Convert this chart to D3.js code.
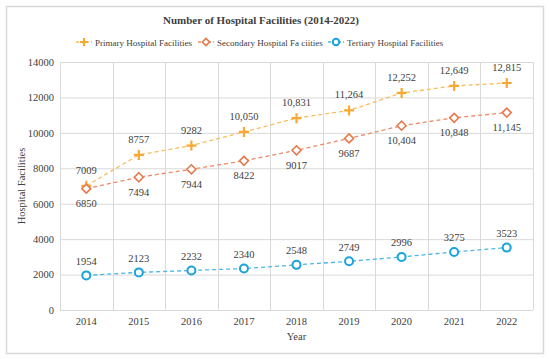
<!DOCTYPE html>
<html>
<head>
<meta charset="utf-8">
<script src="https://cdn.jsdelivr.net/npm/d3@7"></script>
<style>
  body { margin: 0; background: #fff; }
  text { font-family: "Liberation Serif", "DejaVu Serif", serif; fill: #404040; }
</style>
</head>
<body>
<svg id="chart" width="550" height="359"></svg>
<script>
const years = ["2014","2015","2016","2017","2018","2019","2020","2021","2022"];
const primary = [7009, 8757, 9282, 10050, 10831, 11264, 12252, 12649, 12815];
const secondary = [6850, 7494, 7944, 8422, 9017, 9687, 10404, 10848, 11145];
const tertiary = [1954, 2123, 2232, 2340, 2548, 2749, 2996, 3275, 3523];
const yTicks = [0, 2000, 4000, 6000, 8000, 10000, 12000, 14000];
const seriesNames = ["Primary Hospital Facilities", "Secondary Hospital Fa ciities", "Tertiary Hospital Facilities"];

let svg = d3.select("#chart");

// outer frame
svg.append("rect")
    .attr("x", 6.5).attr("y", 6.5)
    .attr("width", 537).attr("height", 347)
    .attr("fill", "#fff")
    .attr("stroke", "#d9d9d9")
    .attr("stroke-width", 1.5);

const plotL = 60, plotR = 533, plotT = 62, plotB = 310;

let x = d3.scaleBand().domain(years).range([plotL, plotR]).padding(0);
let y = d3.scaleLinear().domain([0, 14000]).range([plotB, plotT]);

// grid
let grid = svg.append("g");
grid.selectAll(".hg").data(yTicks).enter().append("line")
    .attr("x1", plotL).attr("x2", plotR)
    .attr("y1", d => y(d) + 0.5).attr("y2", d => y(d) + 0.5)
    .attr("stroke", "#d9d9d9");
let bounds = years.map(d => x(d)).concat([plotR]);
grid.selectAll(".vg").data(bounds).enter().append("line")
    .attr("x1", d => Math.round(d) + 0.5).attr("x2", d => Math.round(d) + 0.5)
    .attr("y1", plotT).attr("y2", plotB)
    .attr("stroke", "#d9d9d9");

// axes (labels only)
let yAxis = svg.append("g")
    .attr("transform", "translate(" + (plotL - 6) + ",0)")
    .call(d3.axisLeft(y).tickValues(yTicks).tickFormat(d3.format("d")).tickSize(0).tickPadding(0));
yAxis.attr("font-family", null);
yAxis.select(".domain").remove();
yAxis.selectAll("text").style("font-size", "10.5px").attr("fill", "#404040");

let xAxis = svg.append("g")
    .attr("transform", "translate(0," + plotB + ")")
    .call(d3.axisBottom(x).tickSize(0).tickPadding(8));
xAxis.attr("font-family", null);
xAxis.select(".domain").remove();
xAxis.selectAll("text").style("font-size", "10.5px").attr("fill", "#404040");

svg.append("text")
    .attr("x", (plotL + plotR) / 2).attr("y", 340)
    .attr("text-anchor", "middle")
    .style("font-size", "10.5px")
    .text("Year");

svg.append("text")
    .attr("transform", "translate(25," + ((plotT + plotB) / 2) + ") rotate(-90)")
    .attr("text-anchor", "middle")
    .style("font-size", "10.5px")
    .text("Hospital Facilities");

// title
svg.append("text")
    .attr("x", 261).attr("y", 24)
    .attr("text-anchor", "middle")
    .style("font-size", "11px")
    .style("font-weight", "bold")
    .text("Number of Hospital Facilities (2014-2022)");

const colors = ["#F7A934", "#E8784D", "#1AA3DD"];
const lineColors = ["#F9BC5E", "#EC8A66", "#4DB6E6"];
const fmt = v => v >= 10000 ? d3.format(",")(v) : String(v);

function marker(g, kind, color, s) {
    if (kind == 0) {
        g.append("path").attr("d", `M${-5*s},0H${5*s}M0,${-5*s}V${5*s}`)
            .attr("stroke", color).attr("stroke-width", 2.2).attr("fill", "none");
    } else if (kind == 1) {
        g.append("path").attr("d", `M0,${-4.5*s}L${4.5*s},0L0,${4.5*s}L${-4.5*s},0Z`)
            .attr("stroke", color).attr("stroke-width", 1.6).attr("fill", "#fff");
    } else {
        g.append("circle").attr("r", 4 * s)
            .attr("stroke", color).attr("stroke-width", 2).attr("fill", "#fff");
    }
}

const allSeries = [primary, secondary, tertiary];
const labelOffset = [-12, 18.5, -10.5];

let line = d3.line().x((d, i) => x(years[i]) + x.bandwidth() / 2).y(d => y(d));

allSeries.forEach((vals, k) => {
    svg.append("path")
        .datum(vals)
        .attr("d", line)
        .attr("fill", "none")
        .attr("stroke", lineColors[k])
        .attr("stroke-width", 1.3)
        .attr("stroke-dasharray", "4,3");
});

allSeries.forEach((vals, k) => {
    vals.forEach((v, i) => {
        let cx = x(years[i]) + x.bandwidth() / 2;
        let cy = y(v);
        let g = svg.append("g").attr("transform", "translate(" + cx + "," + cy + ")");
        marker(g, k, colors[k], 1);
        svg.append("text")
            .attr("x", cx).attr("y", cy + labelOffset[k])
            .attr("text-anchor", "middle")
            .style("font-size", "10.5px")
            .text(fmt(v));
    });
});

// legend
const legendX = [76, 198, 328];
seriesNames.forEach((name, k) => {
    let lx = legendX[k], ly = 42;
    svg.append("line")
        .attr("x1", lx).attr("x2", lx + 16)
        .attr("y1", ly).attr("y2", ly)
        .attr("stroke", lineColors[k]).attr("stroke-width", 1.3)
        .attr("stroke-dasharray", "3,2");
    let g = svg.append("g").attr("transform", "translate(" + (lx + 8) + "," + ly + ")");
    marker(g, k, colors[k], 0.8);
    svg.append("text")
        .attr("x", lx + 19).attr("y", ly + 3.5)
        .style("font-size", "9px")
        .text(name);
});
</script>
</body>
</html>
